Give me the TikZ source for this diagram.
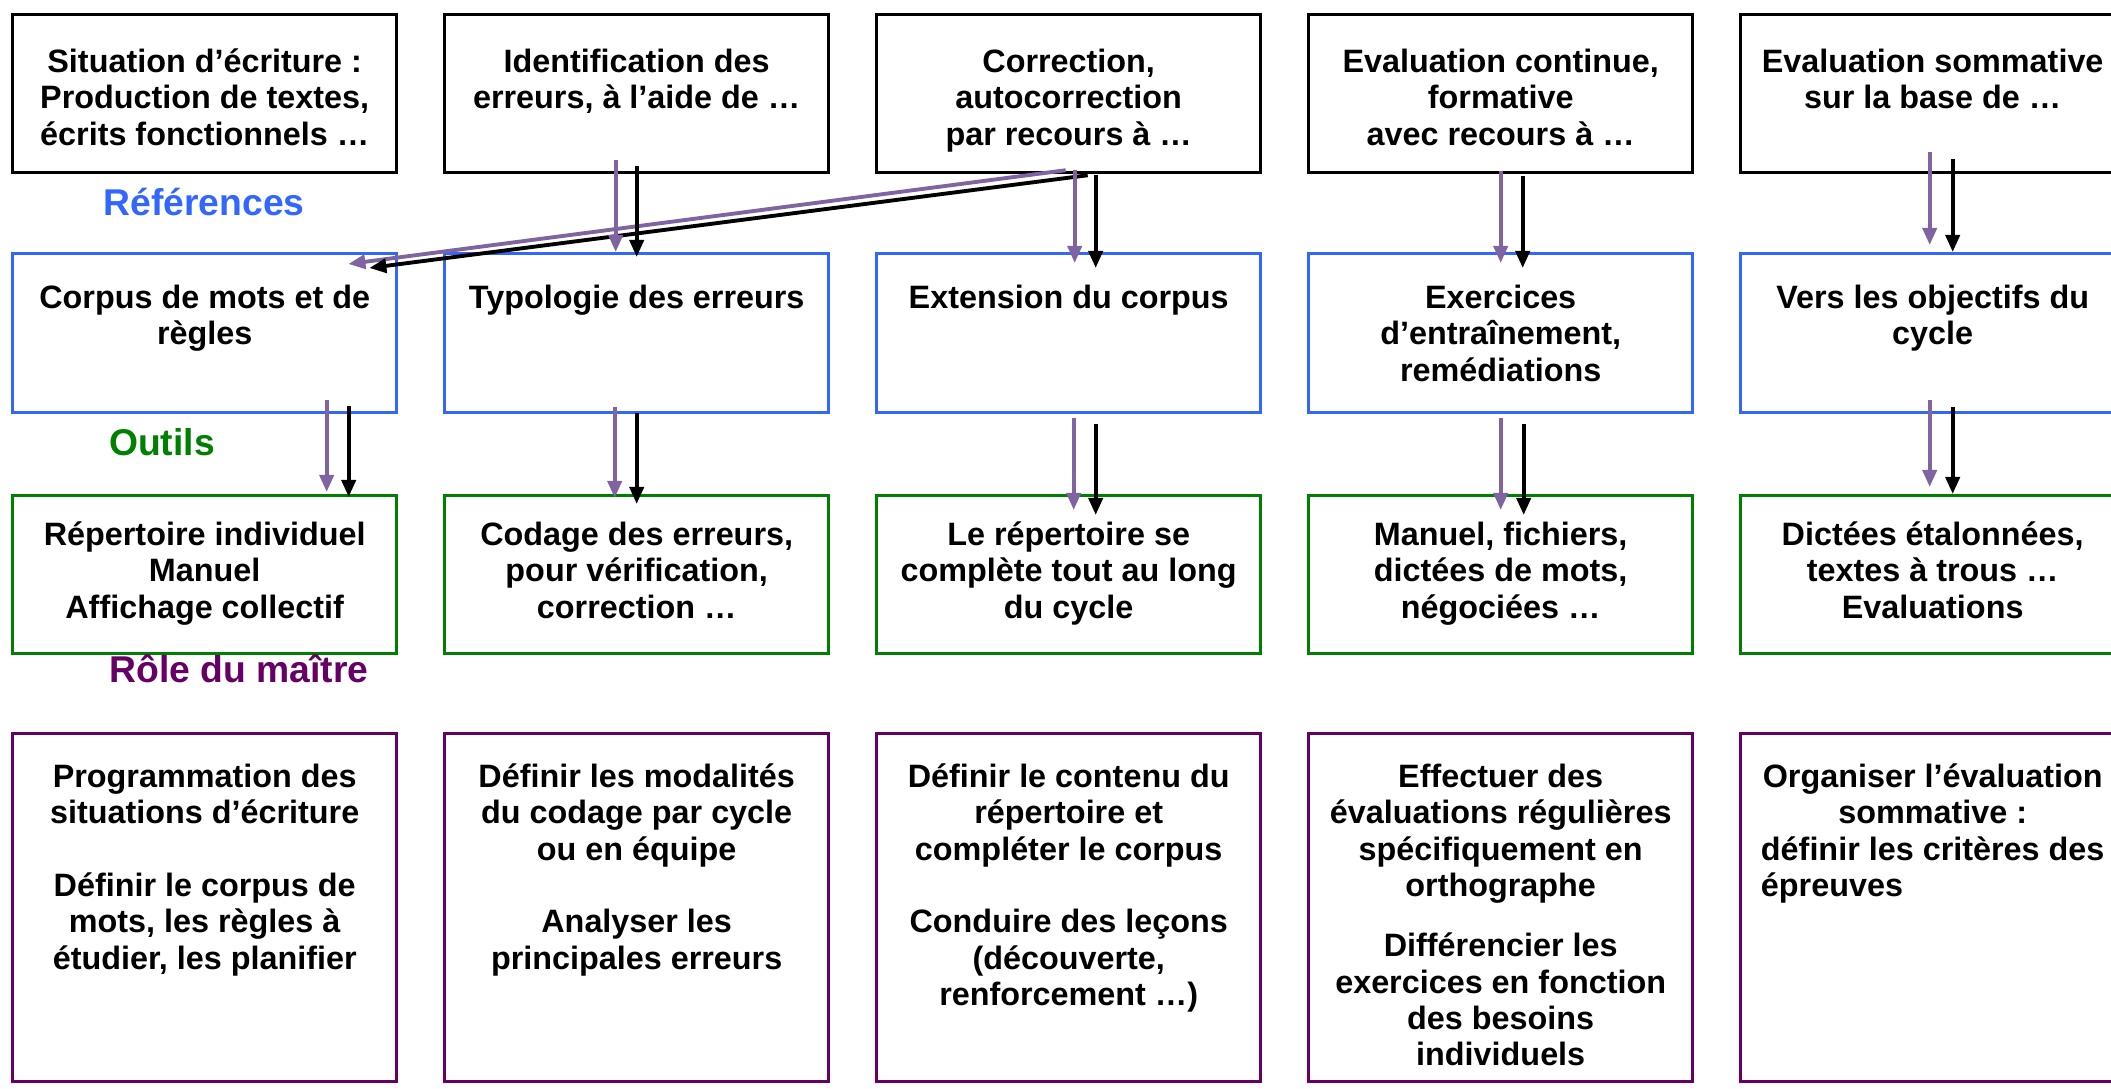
\documentclass[tikz,border=0pt]{standalone}
\usepackage{xcolor}
\usepackage{fontspec}
\setmainfont{Liberation Sans}
\usepackage{tikz}
\usetikzlibrary{arrows.meta,calc,positioning}

\definecolor{refblue}{RGB}{51,102,255}
\definecolor{outgreen}{RGB}{0,128,0}
\definecolor{rolepurple}{RGB}{102,0,102}
\definecolor{arrowpurple}{RGB}{128,100,162}

% box content: height, first baseline, text
\newcommand{\boite}[3]{\parbox[c][#1][t]{3.84cm}{\centering\rule{0pt}{#2}#3}}

\tikzset{
    cadre/.style={draw,rectangle,inner sep=0pt,anchor=north west,line width=0.9pt,
        font=\fontsize{9.2}{10.33}\selectfont\bfseries},
    situation/.style={cadre,draw=black},
    reference/.style={cadre,draw=refblue},
    outil/.style={cadre,draw=outgreen},
    role/.style={cadre,draw=rolepurple},
    titre/.style={font=\fontsize{10.6}{12}\selectfont\bfseries},
    flechev/.style={->,draw=arrowpurple,line width=1.1pt},
    flechen/.style={->,draw=black,line width=1.1pt}
}

\begin{document}
\begin{tikzpicture}[x=0.01cm,y=-0.01cm,>={Triangle[length=0.17cm,width=0.14cm]}]
    \useasboundingbox (0,0) rectangle (2111,1089);
    \path
        (11,13)     node[situation] (s1){\boite{1.58cm}{0.58cm}{Situation d’écriture :\\Production de textes,\\écrits fonctionnels …}}
     ++ (432,0)     node[situation] (s2){\boite{1.58cm}{0.58cm}{Identification des\\erreurs, à l’aide de …}}
     ++ (432,0)     node[situation] (s3){\boite{1.58cm}{0.58cm}{Correction,\\autocorrection\\par recours à …}}
     ++ (432,0)     node[situation] (s4){\boite{1.58cm}{0.58cm}{Evaluation continue,\\formative\\avec recours à …}}
     ++ (432,0)     node[situation] (s5){\boite{1.58cm}{0.58cm}{Evaluation sommative\\sur la base de …}}
     ;
    \path
        (11,252)    node[reference] (r1){\boite{1.59cm}{0.55cm}{Corpus de mots et de\\règles}}
     ++ (432,0)     node[reference] (r2){\boite{1.59cm}{0.55cm}{Typologie des erreurs}}
     ++ (432,0)     node[reference] (r3){\boite{1.59cm}{0.55cm}{Extension du corpus}}
     ++ (432,0)     node[reference] (r4){\boite{1.59cm}{0.55cm}{Exercices\\d’entraînement,\\remédiations}}
     ++ (432,0)     node[reference] (r5){\boite{1.59cm}{0.55cm}{Vers les objectifs du\\cycle}}
     ;
    \path
        (11,494)    node[outil] (o1){\boite{1.58cm}{0.50cm}{Répertoire individuel\\Manuel\\Affichage collectif}}
     ++ (432,0)     node[outil] (o2){\boite{1.58cm}{0.50cm}{Codage des erreurs,\\pour vérification,\\correction …}}
     ++ (432,0)     node[outil] (o3){\boite{1.58cm}{0.50cm}{Le répertoire se\\complète tout au long\\du cycle}}
     ++ (432,0)     node[outil] (o4){\boite{1.58cm}{0.50cm}{Manuel, fichiers,\\dictées de mots,\\négociées …}}
     ++ (432,0)     node[outil] (o5){\boite{1.58cm}{0.50cm}{Dictées étalonnées,\\textes à trous …\\Evaluations}}
     ;
    \path
        (11,732)    node[role] (m1){\boite{3.48cm}{0.54cm}{Programmation des\\situations d’écriture\\[0.363cm]Définir le corpus de\\mots, les règles à\\étudier, les planifier}}
     ++ (432,0)     node[role] (m2){\boite{3.48cm}{0.54cm}{Définir les modalités\\du codage par cycle\\ou en équipe\\[0.363cm]Analyser les\\principales erreurs}}
     ++ (432,0)     node[role] (m3){\boite{3.48cm}{0.54cm}{Définir le contenu du\\répertoire et\\compléter le corpus\\[0.363cm]Conduire des leçons\\(découverte,\\renforcement …)}}
     ++ (432,0)     node[role] (m4){\boite{3.48cm}{0.54cm}{Effectuer des\\évaluations régulières\\spécifiquement en\\orthographe\\[0.24cm]Différencier les\\exercices en fonction\\des besoins\\individuels}}
     ++ (432,0)     node[role] (m5){\boite{3.48cm}{0.54cm}{Organiser l’évaluation\\sommative :\\\begin{tabular}[t]{@{}l@{}}définir les critères des\\épreuves\end{tabular}}}
     ;
    \node[titre,text=refblue] (references) at (204,202) {Références};
    \node[titre,text=outgreen] (outils) at (162,442) {Outils};
    \node[titre,text=rolepurple] (roles) at (239,669) {Rôle du maître};
    % situations -> references
    \draw [flechev] ($(s3.south)+(-3,-4)$)--($(r1.north east)+(-50,12)$);
    \draw [flechen] ($(s3.south)+(19,1)$)--($(r1.north east)+(-29,16)$);
    \draw [flechev] ($(s2.south)+(-21,-14)$)--($(r2.north)+(-21,0)$);
    \draw [flechen] ($(s2.south)+(0,-8)$)--($(r2.north)+(0,5)$);
    \draw [flechev] ($(s3.south)+(6,-4)$)--($(r3.north)+(6,11)$);
    \draw [flechen] ($(s3.south)+(27,1)$)--($(r3.north)+(27,16)$);
    \draw [flechev] ($(s4.south)+(0,-3)$)--($(r4.north)+(0,11)$);
    \draw [flechen] ($(s4.south)+(22,2)$)--($(r4.north)+(22,16)$);
    \draw [flechev] ($(s5.south)+(-3,-22)$)--($(r5.north)+(-3,-7)$);
    \draw [flechen] ($(s5.south)+(20,-15)$)--($(r5.north)+(20,0)$);
    % references -> outils
    \draw [flechev] ($(r1.south)+(122,-14)$)--($(o1.north)+(122,-2)$);
    \draw [flechen] ($(r1.south)+(144,-8)$)--($(o1.north)+(144,3)$);
    \draw [flechev] ($(r2.south)+(-22,-7)$)--($(o2.north)+(-22,4)$);
    \draw [flechen] ($(r2.south)+(0,-1)$)--($(o2.north)+(0,10)$);
    \draw [flechev] ($(r3.south)+(5,4)$)--($(o3.north)+(5,16)$);
    \draw [flechen] ($(r3.south)+(27,10)$)--($(o3.north)+(27,21)$);
    \draw [flechev] ($(r4.south)+(0,4)$)--($(o4.north)+(0,16)$);
    \draw [flechen] ($(r4.south)+(23,10)$)--($(o4.north)+(23,21)$);
    \draw [flechev] ($(r5.south)+(-3,-14)$)--($(o5.north)+(-3,-7)$);
    \draw [flechen] ($(r5.south)+(20,-7)$)--($(o5.north)+(20,0)$);
\end{tikzpicture}
\end{document}
